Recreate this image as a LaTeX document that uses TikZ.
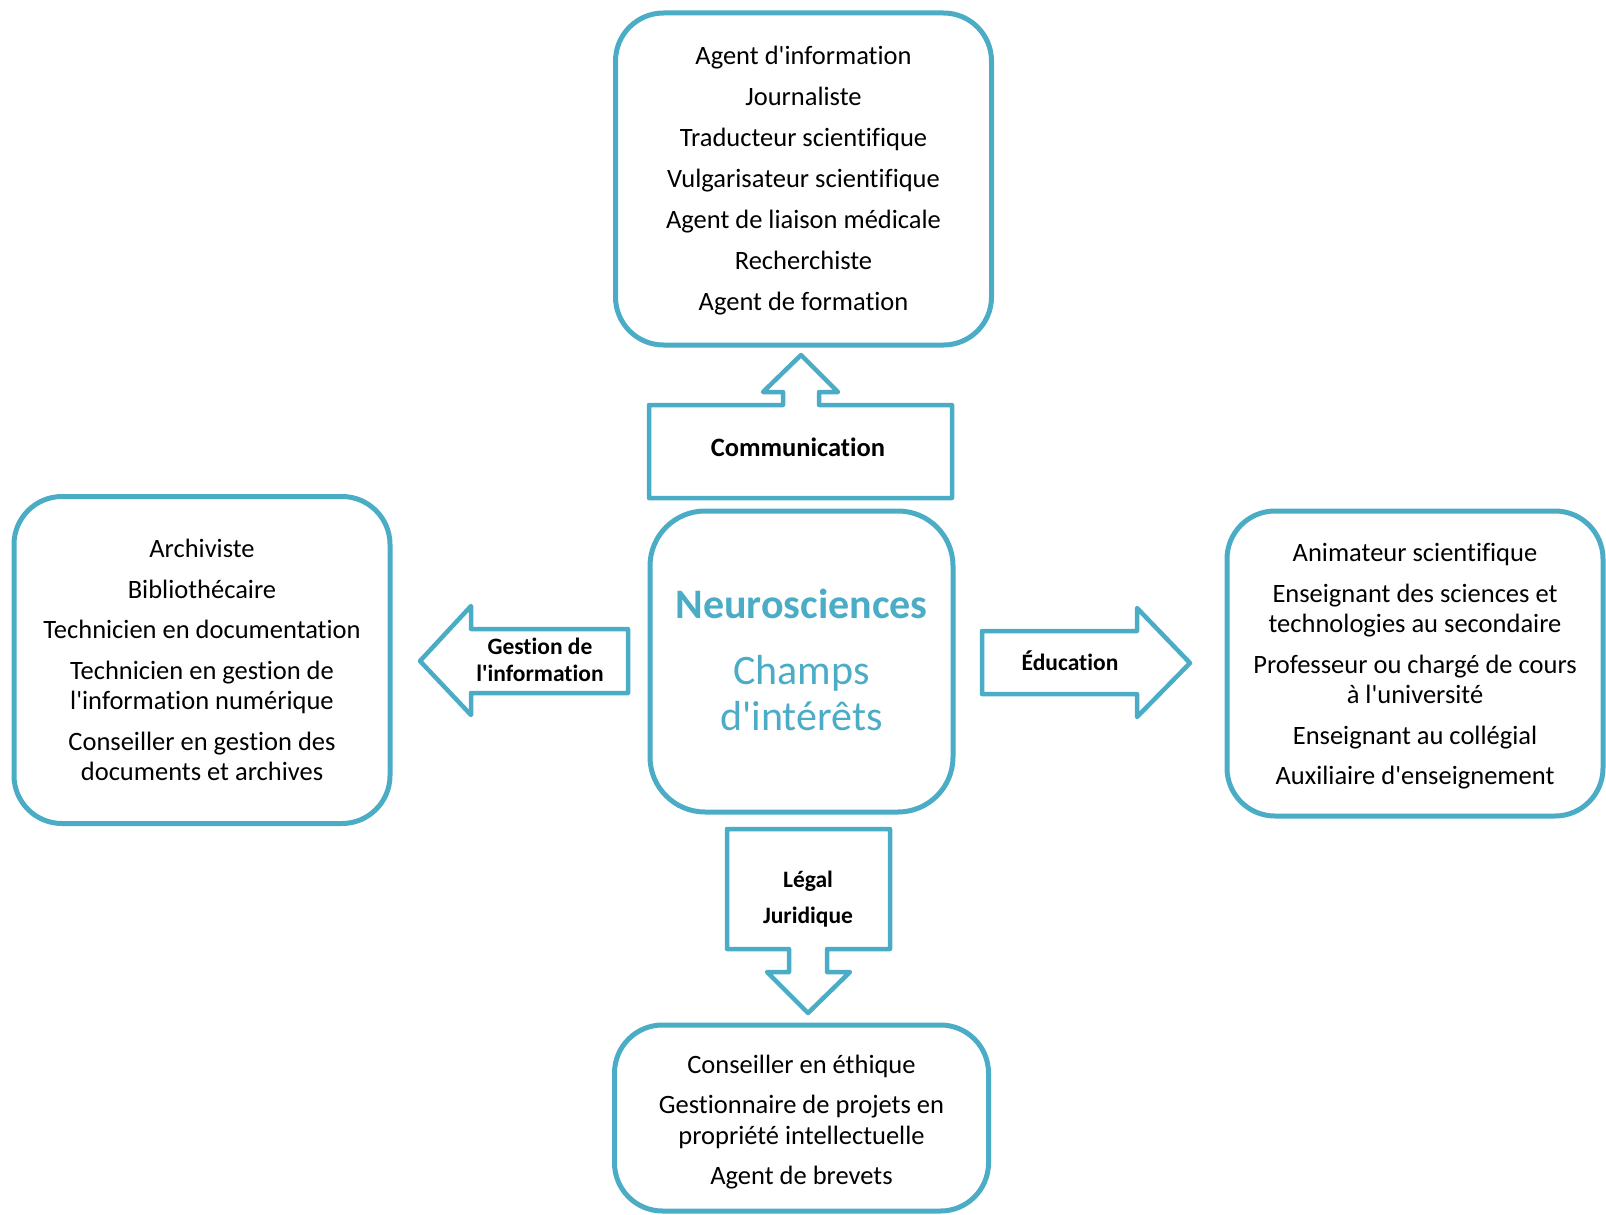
\documentclass[tikz,border=0pt]{standalone}
\usepackage{fontspec}
\defaultfontfeatures[\rmfamily]{}
\setmainfont{Carlito}[Ligatures={NoCommon,NoRequired,NoContextual}]
\definecolor{accent}{HTML}{4BACC6}
\begin{document}
\begin{tikzpicture}[x=1pt,y=-1pt,
  rbox/.style={draw=accent, line width=5pt, rounded corners=48pt, inner sep=0pt},
  txt/.style={align=center, inner sep=0pt, font=\fontsize{26.5}{30.2}\selectfont},
  callout/.style={draw=accent, line width=4.5pt, line join=round, fill=white},
  lbl/.style={font=\bfseries\fontsize{23.5}{26.5}\selectfont, align=center, inner sep=0pt}]
\useasboundingbox (0,0) rectangle (1606,1215);

% boxes
\node[rbox, minimum width=376pt, minimum height=332pt] (top) at (803.5,179) {};
\node[txt, yshift=-2pt] (toptxt) at (top.center)
  {Agent d'information\\[10.8pt]Journaliste\\[10.8pt]Traducteur scientifique\\[10.8pt]Vulgarisateur scientifique\\[10.8pt]Agent de liaison médicale\\[10.8pt]Recherchiste\\[10.8pt]Agent de formation};

\node[rbox, minimum width=376pt, minimum height=327pt] (left) at (202,660) {};
\node[txt] (lefttxt) at (left.center)
  {Archiviste\\[10.5pt]Bibliothécaire\\[10.5pt]Technicien en documentation\\[10.5pt]Technicien en gestion de\\l'information numérique\\[10.5pt]Conseiller en gestion des\\documents et archives};

\node[rbox, minimum width=376pt, minimum height=305pt] (right) at (1415,663.5) {};
\node[txt, yshift=-3pt] (righttxt) at (right.center)
  {Animateur scientifique\\[10.5pt]Enseignant des sciences et\\technologies au secondaire\\[10.5pt]Professeur ou chargé de cours\\à l'université\\[10.5pt]Enseignant au collégial\\[10.5pt]Auxiliaire d'enseignement};

\node[rbox, minimum width=374pt, minimum height=186pt] (bottom) at (801.5,1118) {};
\node[txt, yshift=-4pt] (bottomtxt) at (bottom.center)
  {Conseiller en éthique\\[10.5pt]Gestionnaire de projets en\\propriété intellectuelle\\[10.5pt]Agent de brevets};

\node[rbox, minimum width=303pt, minimum height=301pt, rounded corners=55pt] (ctr) at (801.5,661.5) {};
\node[txt, text=accent, font=\fontsize{42}{46}\selectfont, yshift=2pt] (ctrtxt) at (ctr.center)
  {\textbf{Neurosciences}\\[20pt]Champs\\d'intérêts};

% callout arrows
\draw[callout] (649,405) -- (783,405) -- (783,392) -- (763,392) -- (801,355)
  -- (838,392) -- (819,392) -- (819,405) -- (952,405) -- (952,498) -- (649,498) -- cycle;
\node[lbl, font=\bfseries\fontsize{26.5}{30}\selectfont] (com) at (798,447) {Communication};

\draw[callout] (628,629) -- (471,629) -- (471,606) -- (420,661) -- (471,715)
  -- (471,693) -- (628,693) -- cycle;
\node[lbl] (gest) at (540,660) {Gestion de\\l'information};

\draw[callout] (982,631) -- (1137,631) -- (1137,608) -- (1190,663) -- (1137,717)
  -- (1137,694) -- (982,694) -- cycle;
\node[lbl] (edu) at (1070,661) {Éducation};

\draw[callout] (727,829) -- (890,829) -- (890,949) -- (827,949) -- (827,972)
  -- (850,972) -- (808,1013) -- (767,972) -- (789,972) -- (789,949) -- (727,949) -- cycle;
\node[lbl] (leg) at (808,899) {Légal\\[9.5pt]Juridique};
\end{tikzpicture}
\end{document}
